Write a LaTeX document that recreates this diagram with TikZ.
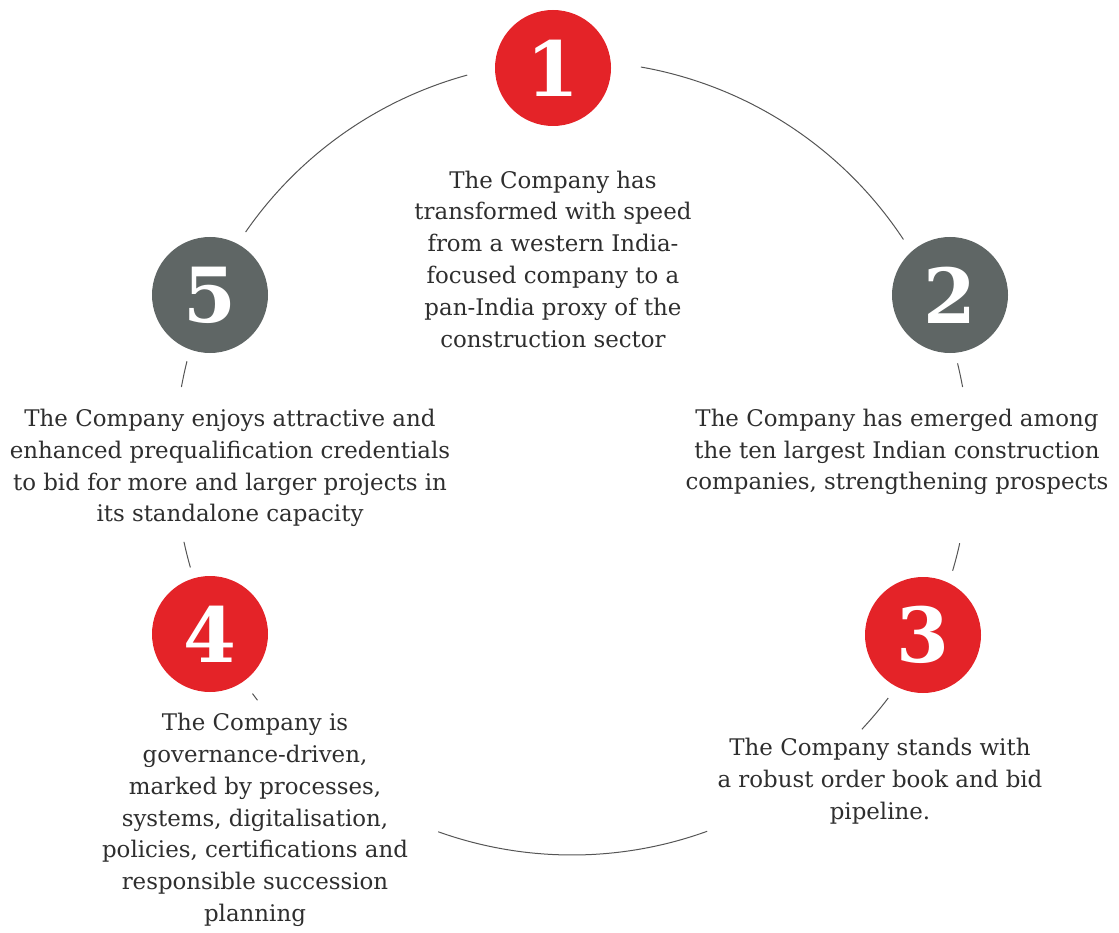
\documentclass[tikz,border=0pt]{standalone}
\usepackage{fontspec}
\setmainfont{DejaVu Serif}
\usetikzlibrary{calc}
\definecolor{accentred}{HTML}{E42328}
\definecolor{slate}{HTML}{5F6665}
\definecolor{bodytext}{HTML}{2E2E2E}
\definecolor{ringline}{HTML}{555555}
\begin{document}
\begin{tikzpicture}[x=1pt,y=-1pt,
  badge/.style={circle,minimum size=116pt,inner sep=0pt,text=white,
    font=\fontsize{76}{76}\selectfont\bfseries},
  redbadge/.style={badge,fill=accentred},
  greybadge/.style={badge,fill=slate},
  caption/.style={align=center,text=bodytext,inner sep=0pt,
    font=\fontsize{22.9}{31.8}\selectfont},
  ring/.style={draw=ringline,line width=1pt}]
\useasboundingbox (0,0) rectangle (1119,933);
\coordinate (ctr) at (572,458);
\def\R{397}
% ring segments between the badges and captions (angles counted upwards)
\foreach \a/\b in {145.3/105.3, 80/33.4, 13.8/10.3, -12.4/-16.5,
                   -37.2/-43.1, -70.1/-109.7, 216.4/217.6, 196/192.2, 169.7/165.9}{
  \draw[ring] ($(ctr)+({\R*cos(\a)},{-\R*sin(\a)})$)
    arc[start angle=\a, end angle=\b, radius=\R pt];
}
% numbered badges
\node[redbadge]  (n1) at (553,68)  {1};
\node[greybadge] (n2) at (950,295) {2};
\node[redbadge]  (n3) at (923,635) {3};
\node[redbadge]  (n4) at (210,634) {4};
\node[greybadge] (n5) at (210,295) {5};
% captions
\node[caption] (t1) at (553,259) {The Company has\\transformed with speed\\from a western India-\\focused company to a\\pan-India proxy of the\\construction sector};
\node[caption] (t2) at (897,452) {The Company has emerged among\\the ten largest Indian construction\\companies, strengthening prospects};
\node[caption] (t3) at (880,781) {The Company stands with\\a robust order book and bid\\pipeline.};
\node[caption] (t4) at (255,820) {The Company is\\governance-driven,\\marked by processes,\\systems, digitalisation,\\policies, certifications and\\responsible succession\\planning};
\node[caption] (t5) at (230,468) {The Company enjoys attractive and\\enhanced prequalification credentials\\to bid for more and larger projects in\\its standalone capacity};
\end{tikzpicture}
\end{document}
